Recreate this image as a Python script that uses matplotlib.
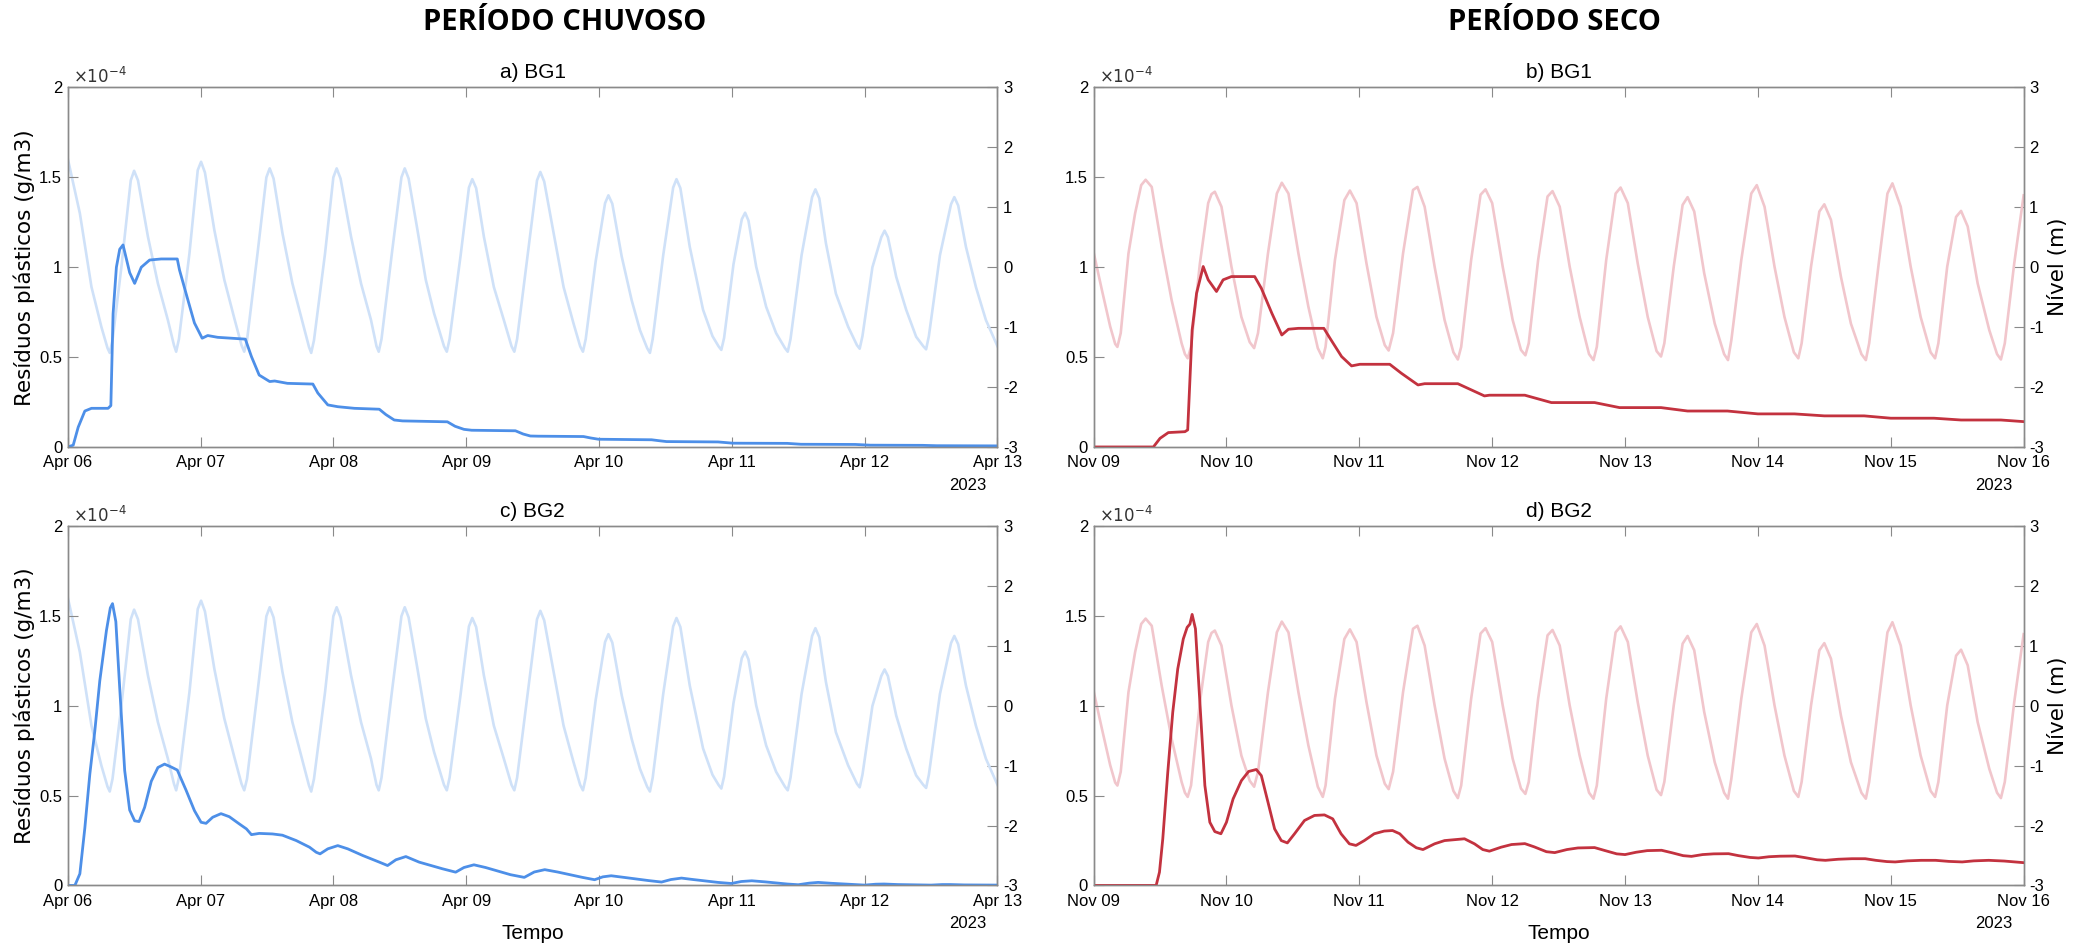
import numpy as np
import matplotlib
matplotlib.use("Agg")
import matplotlib.pyplot as plt
import matplotlib.dates as mdates

plt.rcParams['font.family'] = ['Liberation Sans', 'DejaVu Sans']

# horas contadas a partir do inicio de cada janela (7 dias)
INICIO_CHUVA = np.datetime64('2023-04-06T00:00')
INICIO_SECO = np.datetime64('2023-11-09T00:00')

# nivel da mare (m) - periodo chuvoso (igual para BG1 e BG2)
mare_chuva_h = [0.0, 2.2, 4.3, 6.1, 7.2, 7.6, 8.1, 9.7, 11.4, 12.0, 12.7, 14.5, 16.3, 18.1,
                19.2, 19.6, 20.1, 22.0, 23.5, 24.1, 24.8, 26.5, 28.3, 30.1, 31.4, 31.9, 32.4,
                34.3, 35.9, 36.5, 37.2, 38.8, 40.6, 42.5, 43.6, 44.0, 44.5, 46.5, 48.0, 48.6,
                49.3, 51.2, 53.0, 54.8, 55.8, 56.2, 56.7, 58.6, 60.3, 60.9, 61.6, 63.2, 64.7,
                66.2, 68.0, 68.5, 69.0, 71.0, 72.5, 73.1, 73.8, 75.2, 77.0, 78.8, 80.2, 80.7,
                81.2, 83.1, 84.8, 85.4, 86.1, 87.8, 89.6, 91.4, 92.6, 93.1, 93.6, 95.4, 97.1,
                97.7, 98.4, 100.1, 101.9, 103.4, 104.7, 105.2, 105.7, 107.6, 109.4, 110.0,
                110.7, 112.4, 114.8, 116.5, 117.6, 118.1, 118.6, 120.3, 121.8, 122.4, 123.0,
                124.4, 126.2, 128.0, 129.6, 130.1, 130.6, 132.6, 134.5, 135.1, 135.8, 137.0,
                138.8, 141.0, 142.6, 143.1, 143.6, 145.4, 147.0, 147.6, 148.2, 149.7, 151.5,
                153.3, 154.6, 155.1, 155.6, 157.6, 159.6, 160.2, 160.9, 162.3, 164.1, 165.9,
                168.0]
mare_chuva_m = [1.82, 0.90, -0.33, -1.00, -1.35, -1.43, -1.22, 0.00, 1.45, 1.61, 1.45, 0.51, -0.27,
                -0.88, -1.30, -1.41, -1.20, 0.23, 1.62, 1.76, 1.58, 0.62, -0.21, -0.85, -1.30,
                -1.41, -1.22, 0.23, 1.50, 1.65, 1.48, 0.57, -0.27, -0.94, -1.33, -1.43, -1.22,
                0.23, 1.50, 1.65, 1.48, 0.51, -0.27, -0.88, -1.32, -1.41, -1.20, 0.25, 1.50,
                1.65, 1.48, 0.62, -0.21, -0.77, -1.32, -1.41, -1.20, 0.20, 1.33, 1.47, 1.32,
                0.51, -0.33, -0.88, -1.32, -1.41, -1.20, 0.20, 1.45, 1.59, 1.43, 0.57, -0.33,
                -0.94, -1.32, -1.41, -1.20, 0.10, 1.07, 1.20, 1.06, 0.18, -0.55, -1.05, -1.35,
                -1.43, -1.20, 0.20, 1.33, 1.47, 1.32, 0.34, -0.71, -1.15, -1.32, -1.38, -1.18,
                0.05, 0.80, 0.91, 0.78, 0.01, -0.66, -1.10, -1.35, -1.41, -1.20, 0.20, 1.17,
                1.30, 1.15, 0.40, -0.44, -0.99, -1.30, -1.36, -1.15, 0.00, 0.50, 0.61, 0.50,
                -0.16, -0.71, -1.16, -1.32, -1.37, -1.15, 0.20, 1.05, 1.17, 1.03, 0.34, -0.33,
                -0.88, -1.32]

# nivel da mare (m) - periodo seco
mare_seco_h = [0.0, 1.5, 3.0, 3.9, 4.3, 4.9, 6.3, 7.5, 8.6, 9.4, 10.5, 12.3, 14.1, 15.9, 16.5,
               17.0, 17.6, 19.2, 20.7, 21.3, 21.9, 23.1, 24.9, 26.7, 28.2, 29.0, 29.7, 31.5,
               33.1, 34.0, 35.2, 37.0, 38.8, 40.5, 41.4, 41.9, 43.6, 45.3, 46.3, 47.5, 49.3,
               51.1, 52.6, 53.3, 54.1, 55.9, 57.7, 58.5, 59.8, 61.6, 63.4, 65.0, 65.8, 66.4,
               68.2, 69.9, 70.8, 72.0, 73.9, 75.7, 77.2, 78.0, 78.6, 80.3, 82.0, 82.9, 84.2,
               86.0, 87.8, 89.5, 90.3, 90.9, 92.6, 94.3, 95.2, 96.5, 98.3, 100.1, 101.7, 102.5,
               103.1, 104.8, 106.4, 107.3, 108.5, 110.3, 112.2, 113.9, 114.6, 115.2, 117.0,
               118.8, 119.8, 121.2, 123.0, 124.8, 126.5, 127.3, 127.9, 129.6, 131.1, 132.0,
               133.2, 135.0, 136.8, 138.7, 139.5, 140.1, 141.9, 143.4, 144.3, 145.8, 147.6,
               149.4, 151.2, 152.0, 152.6, 154.2, 155.8, 156.7, 157.9, 159.7, 161.8, 163.2,
               163.9, 164.6, 166.3, 168.0]
mare_seco_m = [0.25, -0.38, -0.99, -1.28, -1.33, -1.10, 0.23, 0.90, 1.37, 1.46, 1.34, 0.34, -0.55,
               -1.27, -1.45, -1.52, -1.33, 0.06, 1.07, 1.22, 1.26, 1.01, 0.01, -0.83, -1.25,
               -1.35, -1.10, 0.23, 1.23, 1.41, 1.23, 0.23, -0.66, -1.35, -1.52, -1.33, 0.12,
               1.12, 1.28, 1.07, 0.06, -0.83, -1.30, -1.39, -1.10, 0.23, 1.29, 1.34, 1.01, 0.01,
               -0.88, -1.42, -1.54, -1.33, 0.12, 1.21, 1.30, 1.07, 0.01, -0.88, -1.38, -1.47,
               -1.27, 0.12, 1.18, 1.27, 1.01, 0.01, -0.83, -1.45, -1.55, -1.33, 0.12, 1.23, 1.33,
               1.07, 0.06, -0.83, -1.40, -1.49, -1.27, 0.01, 1.04, 1.17, 0.93, -0.10, -0.94,
               -1.45, -1.55, -1.22, 0.12, 1.23, 1.37, 1.01, 0.01, -0.83, -1.42, -1.52, -1.27,
               0.01, 0.93, 1.05, 0.79, -0.16, -0.94, -1.45, -1.55, -1.27, 0.12, 1.23, 1.40, 1.01,
               0.01, -0.83, -1.42, -1.52, -1.27, 0.01, 0.84, 0.94, 0.68, -0.27, -1.05, -1.45,
               -1.54, -1.27, 0.06, 1.20]

# residuos plasticos (x 1e-4 g/m3)
bg1_chuva_h = [0.0, 1.0, 1.9, 3.1, 4.3, 7.3, 7.8, 8.2, 8.8, 9.4, 10.0, 11.2, 12.1, 13.3, 14.8, 16.9,
               19.8, 20.2, 21.7, 22.9, 24.3, 25.3, 27.1, 32.1, 33.2, 34.6, 36.5, 37.4, 39.7, 44.3,
               45.2, 47.0, 48.8, 51.8, 56.3, 57.5, 59.0, 60.5, 68.6, 70.0, 71.6, 73.0, 80.9, 82.3,
               83.6, 85.0, 93.2, 94.5, 95.9, 105.5, 106.8, 108.2, 117.5, 120.2, 130.0, 132.5,
               142.3, 145.0, 154.5, 157.0, 168.0]
bg1_chuva = [0.0, 0.01, 0.11, 0.20, 0.215, 0.215, 0.23, 0.74, 1.00, 1.10, 1.124, 0.97, 0.91, 1.00,
             1.04, 1.046, 1.046, 0.985, 0.82, 0.69, 0.605, 0.62, 0.61, 0.60, 0.503, 0.40, 0.364,
             0.367, 0.354, 0.35, 0.30, 0.234, 0.224, 0.215, 0.21, 0.18, 0.15, 0.145, 0.14, 0.115,
             0.098, 0.093, 0.09, 0.072, 0.061, 0.06, 0.058, 0.05, 0.043, 0.04, 0.035, 0.03, 0.028,
             0.021, 0.02, 0.015, 0.014, 0.01, 0.009, 0.007, 0.006]

bg2_chuva_h = [0.0, 1.3, 2.2, 3.1, 4.0, 4.9, 5.8, 7.0, 7.7, 8.1, 8.7, 9.4, 10.3, 11.2, 12.1, 12.9,
               13.9, 15.1, 16.3, 17.5, 18.7, 19.8, 21.4, 22.9, 24.1, 25.0, 26.2, 27.7, 29.2, 31.0,
               32.3, 33.2, 34.6, 37.0, 38.8, 41.3, 43.7, 44.9, 45.6, 47.0, 48.8, 50.6, 53.3, 56.3,
               57.8, 59.3, 61.1, 63.5, 67.7, 70.1, 71.6, 73.4, 75.5, 80.0, 82.5, 84.3, 86.2, 88.5,
               93.0, 95.2, 96.7, 98.2, 100.5, 105.0, 107.3, 109.0, 110.9, 113.0, 117.5, 119.9,
               121.7, 123.6, 126.0, 130.0, 132.0, 134.0, 135.6, 138.0, 144.0, 146.0, 147.5, 150.0,
               156.0, 158.0, 159.5, 162.0, 168.0]
bg2_chuva = [0.0, 0.0, 0.065, 0.32, 0.62, 0.86, 1.14, 1.42, 1.546, 1.57, 1.47, 1.10, 0.64, 0.42,
             0.36, 0.356, 0.435, 0.58, 0.657, 0.676, 0.66, 0.643, 0.53, 0.417, 0.352, 0.346, 0.38,
             0.40, 0.383, 0.343, 0.315, 0.283, 0.29, 0.287, 0.28, 0.25, 0.213, 0.185, 0.176,
             0.204, 0.222, 0.204, 0.167, 0.13, 0.111, 0.143, 0.161, 0.13, 0.093, 0.074, 0.10,
             0.115, 0.10, 0.06, 0.045, 0.075, 0.088, 0.075, 0.045, 0.032, 0.048, 0.054, 0.045,
             0.027, 0.019, 0.033, 0.041, 0.033, 0.017, 0.011, 0.022, 0.026, 0.02, 0.008, 0.004,
             0.013, 0.017, 0.012, 0.002, 0.007, 0.008, 0.005, 0.002, 0.005, 0.005, 0.003, 0.002]

bg1_seco_h = [0.0, 10.8, 12.0, 13.5, 16.5, 17.0, 17.4, 17.8, 18.6, 19.8, 20.7, 22.2, 23.4, 24.9,
              29.1, 30.3, 32.2, 34.0, 35.2, 37.0, 41.6, 42.7, 44.8, 46.6, 48.1, 53.5, 55.6, 58.6,
              59.8, 65.8, 70.6, 71.5, 77.9, 82.7, 90.5, 95.0, 102.5, 107.3, 114.5, 120.0, 126.6,
              132.0, 139.2, 144.0, 151.8, 156.7, 163.9, 168.0]
bg1_seco = [0.0, 0.0, 0.048, 0.08, 0.085, 0.095, 0.373, 0.65, 0.855, 1.004, 0.93, 0.865, 0.93,
            0.948, 0.948, 0.883, 0.744, 0.623, 0.655, 0.66, 0.66, 0.605, 0.503, 0.451, 0.46, 0.46,
            0.41, 0.345, 0.352, 0.352, 0.284, 0.288, 0.288, 0.247, 0.247, 0.219, 0.219, 0.20,
            0.20, 0.184, 0.184, 0.173, 0.173, 0.16, 0.16, 0.15, 0.15, 0.141]

bg2_seco_h = [0.0, 11.3, 11.9, 12.5, 13.4, 14.3, 15.2, 16.2, 16.9, 17.4, 17.8, 18.4, 19.2, 20.1,
              21.0, 21.9, 23.0, 24.0, 25.2, 26.7, 28.0, 29.4, 30.3, 31.5, 32.7, 33.9, 35.0, 36.3,
              38.1, 39.9, 41.7, 43.2, 44.7, 46.2, 47.4, 48.9, 50.7, 52.5, 54.0, 55.3, 56.8, 58.3,
              59.5, 61.6, 63.4, 67.0, 68.8, 70.3, 71.5, 73.6, 75.5, 77.9, 79.6, 81.8, 83.3, 85.5,
              87.5, 90.5, 92.3, 94.5, 96.0, 98.0, 100.0, 102.6, 104.5, 106.5, 108.0, 110.0, 112.0,
              114.7, 116.5, 118.6, 120.1, 122.0, 124.0, 126.7, 128.5, 130.7, 132.2, 134.5, 137.0,
              139.4, 141.3, 143.3, 144.8, 147.0, 149.5, 152.1, 154.5, 156.9, 159.0, 161.7, 164.5,
              168.0]
bg2_seco = [0.0, 0.0, 0.074, 0.26, 0.63, 0.965, 1.206, 1.373, 1.438, 1.456, 1.51, 1.43, 1.02,
            0.557, 0.352, 0.30, 0.288, 0.352, 0.482, 0.584, 0.635, 0.646, 0.612, 0.464, 0.315,
            0.25, 0.237, 0.288, 0.362, 0.39, 0.393, 0.371, 0.288, 0.232, 0.223, 0.25, 0.288,
            0.303, 0.306, 0.288, 0.241, 0.21, 0.20, 0.232, 0.25, 0.26, 0.232, 0.20, 0.191, 0.213,
            0.228, 0.233, 0.215, 0.188, 0.183, 0.2, 0.209, 0.211, 0.195, 0.176, 0.172, 0.185,
            0.194, 0.196, 0.182, 0.166, 0.162, 0.172, 0.176, 0.177, 0.166, 0.156, 0.153, 0.16,
            0.163, 0.164, 0.155, 0.143, 0.14, 0.146, 0.149, 0.149, 0.14, 0.133, 0.131, 0.137,
            0.14, 0.14, 0.134, 0.131, 0.137, 0.14, 0.136, 0.127]

AZUL, AZUL_CLARO = '#4d8fe8', '#cfe1f8'
VERMELHO, VERMELHO_CLARO = '#c3323f', '#f1c6cc'
CINZA = '#8a8a8a'


def tempo(inicio, horas):
    seg = np.round(np.array(horas) * 3600).astype(int)
    return inicio + seg.astype('timedelta64[s]')


def painel(ax, inicio, mare_h, mare_m, conc_h, conc, cor, cor_clara, titulo,
           rotulo_esq=False, rotulo_dir=False, rotulo_x=False):
    ax2 = ax.twinx()
    ax2.plot(tempo(inicio, mare_h), mare_m, color=cor_clara, lw=1.9,
             solid_joinstyle='round')
    ax.plot(tempo(inicio, conc_h), conc, color=cor, lw=2.0, solid_joinstyle='round')
    ax.set_zorder(ax2.get_zorder() + 1)
    ax.patch.set_visible(False)

    ax.set_xlim(inicio, inicio + np.timedelta64(7, 'D'))
    ax.xaxis.set_major_locator(mdates.DayLocator())
    ax.xaxis.set_major_formatter(mdates.DateFormatter('%b %d'))

    ax.set_ylim(0, 2)
    ax.set_yticks([0, 0.5, 1, 1.5, 2])
    ax.set_yticklabels(['0', '0.5', '1', '1.5', '2'])
    ax2.set_ylim(-3, 3)
    ax2.set_yticks(range(-3, 4))
    ax2.set_yticklabels([str(v) for v in range(-3, 4)])

    ax.tick_params(axis='x', direction='in', top=True, length=7, color=CINZA,
                   labelsize=12, pad=6)
    ax.tick_params(axis='y', direction='in', length=7, color=CINZA, labelsize=12, pad=4)
    ax2.tick_params(axis='y', direction='in', length=7, color=CINZA, labelsize=12, pad=4)
    for a in (ax, ax2):
        for s in a.spines.values():
            s.set_color(CINZA)
            s.set_linewidth(1.0)

    ax.set_title(titulo, fontsize=15, pad=7)
    ax.text(0.006, 1.004, r'$\times10^{-4}$', transform=ax.transAxes, fontsize=12,
            ha='left', va='bottom', color='#333333')
    ax.text(0.988, -0.106, '2023', transform=ax.transAxes, fontsize=12,
            ha='right', va='center')

    if rotulo_esq:
        ax.text(-0.047, 0.5, 'Resíduos plásticos (g/m3)', transform=ax.transAxes,
                rotation=90, ha='center', va='center', fontsize=15.5, family='DejaVu Sans')
    if rotulo_dir:
        ax2.text(1.037, 0.5, 'Nível (m)', transform=ax2.transAxes,
                 rotation=90, ha='center', va='center', fontsize=15.5, family='DejaVu Sans')
    if rotulo_x:
        ax.text(0.5, -0.135, 'Tempo', transform=ax.transAxes, ha='center', va='center',
                fontsize=15)


fig = plt.figure(figsize=(20.89, 9.52), dpi=100)

ax_a = fig.add_axes([0.0324, 0.5305, 0.4451, 0.3776])
ax_b = fig.add_axes([0.5235, 0.5305, 0.4452, 0.3776])
ax_c = fig.add_axes([0.0324, 0.0699, 0.4451, 0.3771])
ax_d = fig.add_axes([0.5235, 0.0699, 0.4452, 0.3771])

painel(ax_a, INICIO_CHUVA, mare_chuva_h, mare_chuva_m, bg1_chuva_h, bg1_chuva,
       AZUL, AZUL_CLARO, 'a) BG1', rotulo_esq=True)
painel(ax_b, INICIO_SECO, mare_seco_h, mare_seco_m, bg1_seco_h, bg1_seco,
       VERMELHO, VERMELHO_CLARO, 'b) BG1', rotulo_dir=True)
painel(ax_c, INICIO_CHUVA, mare_chuva_h, mare_chuva_m, bg2_chuva_h, bg2_chuva,
       AZUL, AZUL_CLARO, 'c) BG2', rotulo_esq=True, rotulo_x=True)
painel(ax_d, INICIO_SECO, mare_seco_h, mare_seco_m, bg2_seco_h, bg2_seco,
       VERMELHO, VERMELHO_CLARO, 'd) BG2', rotulo_dir=True, rotulo_x=True)

fig.text(565 / 2089, 1 - 23 / 952, 'PERÍODO CHUVOSO', ha='center', va='center',
         fontsize=21, fontweight='bold', family='Open Sans')
fig.text(1554 / 2089, 1 - 23 / 952, 'PERÍODO SECO', ha='center', va='center',
         fontsize=21, fontweight='bold', family='Open Sans')

fig.savefig('out.png', dpi=100)
